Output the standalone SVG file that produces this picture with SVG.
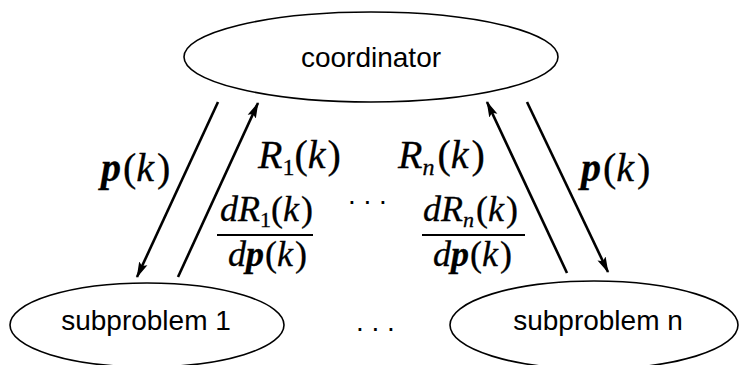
<svg xmlns="http://www.w3.org/2000/svg" width="740" height="365" viewBox="0 0 740 365">
<style>
.node{fill:#fff;stroke:#000;stroke-width:1.6}
.lbl{font-family:"Liberation Sans",Arial,sans-serif;font-size:28px;fill:#000}
.m{font-family:"Liberation Serif","Times New Roman",serif;font-size:40px;font-style:italic;fill:#000;stroke:#000;stroke-width:0.3}
.f{font-size:36px}
.b{font-weight:bold}
.up{font-style:normal}
.sub{font-size:24px}
.f .sub{font-size:22px}
.edge{stroke:#000;stroke-width:2.6;fill:none;marker-end:url(#ah)}
.bar{stroke:#000;stroke-width:1.8}
</style>
<defs>
<marker id="ah" viewBox="0 0 16 10" refX="15" refY="5" markerWidth="16" markerHeight="10" markerUnits="userSpaceOnUse" orient="auto">
<path d="M0,0.5 L16,5 L0,9.5 L3,5 Z" fill="#000"/>
</marker>
</defs>
<rect width="740" height="365" fill="#fff"/>
<g id="coordinator">
<ellipse class="node" cx="371" cy="57" rx="187" ry="45"/>
<text class="lbl" x="371" y="67" text-anchor="middle">coordinator</text>
</g>
<g id="subproblem1">
<ellipse class="node" cx="147" cy="325" rx="137" ry="42"/>
<text class="lbl" x="146" y="330" text-anchor="middle">subproblem 1</text>
</g>
<g id="subproblemn">
<ellipse class="node" cx="594" cy="325" rx="144" ry="44"/>
<text class="lbl" x="598" y="330" text-anchor="middle">subproblem n</text>
</g>
<g id="connectors">
<line class="edge" x1="218" y1="102" x2="137" y2="277"/>
<line class="edge" x1="178" y1="277" x2="258" y2="103"/>
<line class="edge" x1="567" y1="273" x2="487" y2="102"/>
<line class="edge" x1="527" y1="102" x2="608" y2="272"/>
</g>
<g id="labels">
<text class="m" x="101" y="181"><tspan class="b">p</tspan><tspan class="up" dx="2">(</tspan>k<tspan class="up" dx="3">)</tspan></text>
<text class="m" x="258" y="168">R<tspan class="sub up" dy="7">1</tspan><tspan class="up" dy="-7">(</tspan>k<tspan class="up" dx="2">)</tspan></text>
<text class="m f" x="220" y="221">dR<tspan class="sub up" dy="6">1</tspan><tspan class="up" dy="-6">(</tspan>k<tspan class="up" dx="2">)</tspan></text>
<line class="bar" x1="217" y1="235" x2="313" y2="235"/>
<text class="m f" x="228" y="266">d<tspan class="b">p</tspan><tspan class="up" dx="1">(</tspan>k<tspan class="up" dx="2">)</tspan></text>
<text class="m" x="398" y="168">R<tspan class="sub" dy="7">n</tspan><tspan class="up" dy="-7" dx="3">(</tspan>k<tspan class="up" dx="3">)</tspan></text>
<text class="m f" x="423" y="221">dR<tspan class="sub" dy="6">n</tspan><tspan class="up" dy="-6" dx="2">(</tspan>k<tspan class="up" dx="2">)</tspan></text>
<line class="bar" x1="422" y1="235" x2="525" y2="235"/>
<text class="m f" x="433" y="266">d<tspan class="b">p</tspan><tspan class="up" dx="1">(</tspan>k<tspan class="up" dx="2">)</tspan></text>
<text class="m" x="581" y="181"><tspan class="b">p</tspan><tspan class="up" dx="2">(</tspan>k<tspan class="up" dx="3">)</tspan></text>
<text class="lbl" x="348" y="204">. . .</text>
<text class="lbl" x="356" y="331">. . .</text>
</g>
</svg>
